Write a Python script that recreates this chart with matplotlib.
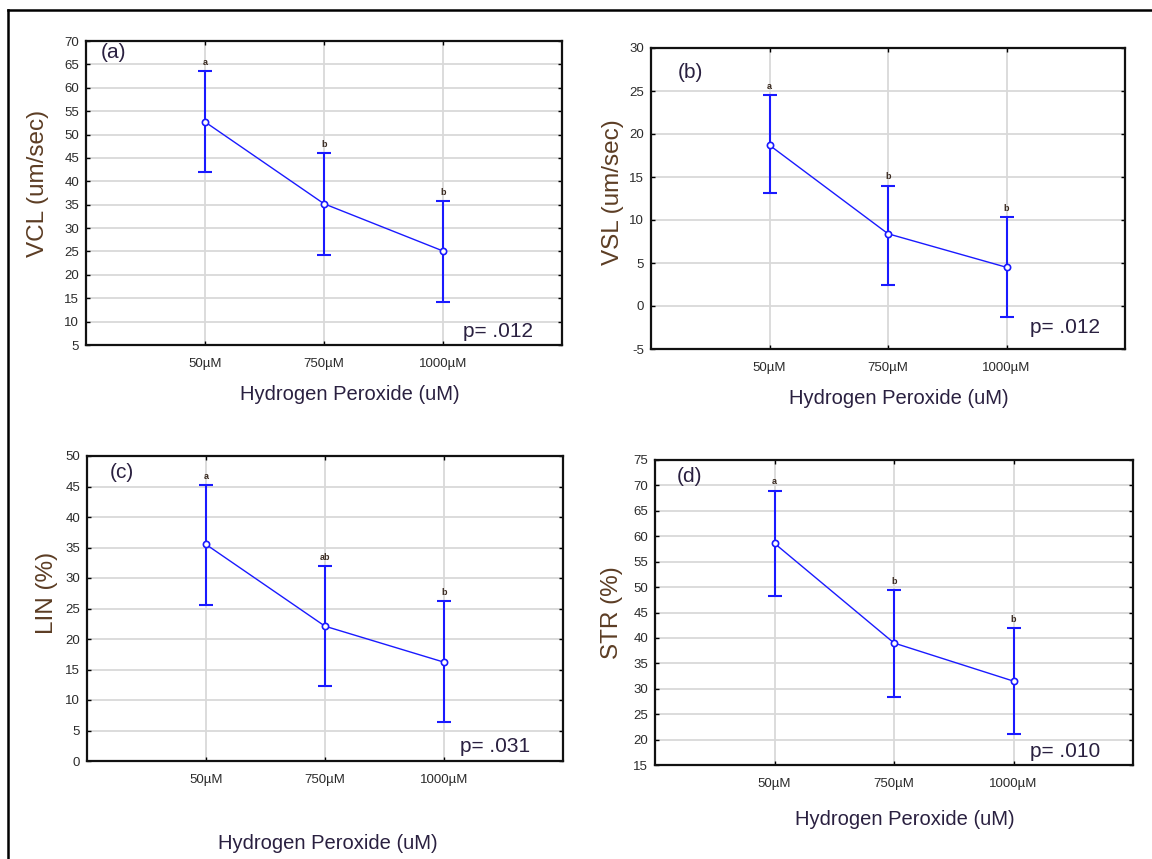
import numpy as np
import matplotlib
matplotlib.use("Agg")
import matplotlib.pyplot as plt
from matplotlib.lines import Line2D

plt.rcParams['font.family'] = ['Liberation Sans', 'DejaVu Sans']
plt.rcParams['axes.unicode_minus'] = False

doses = ['50µM', '750µM', '1000µM']
xlabel = 'Hydrogen Peroxide (uM)'

# means, upper and lower ends of the error bars, letters, p values
vcl_mean = [52.7, 35.2, 25.1]
vcl_hi = [63.6, 46.1, 35.8]
vcl_lo = [42.0, 24.3, 14.2]
vcl_letters = ['a', 'b', 'b']

vsl_mean = [18.7, 8.4, 4.5]
vsl_hi = [24.5, 14.0, 10.3]
vsl_lo = [13.1, 2.4, -1.3]
vsl_letters = ['a', 'b', 'b']

lin_mean = [35.5, 22.1, 16.2]
lin_hi = [45.3, 32.0, 26.2]
lin_lo = [25.6, 12.3, 6.4]
lin_letters = ['a', 'ab', 'b']

str_mean = [58.6, 39.0, 31.5]
str_hi = [69.0, 49.4, 42.0]
str_lo = [48.3, 28.3, 21.1]
str_letters = ['a', 'b', 'b']

W, H = 1152, 859

panels = [
    # pixel box (left, top, right, bottom), data, ylabel, yrange, tag, p text, label spots
    dict(box=(86, 41, 562, 345), mean=vcl_mean, hi=vcl_hi, lo=vcl_lo, let=vcl_letters,
         ylab='VCL (um/sec)', ylim=(5, 70), tag='(a)', tagpos=(0.03, 0.995),
         p='p= .012', ppos=(0.939, 0.025), ylpos=(-0.1, 0.53), xlpos=(0.555, -0.164)),
    dict(box=(651, 48, 1125, 349), mean=vsl_mean, hi=vsl_hi, lo=vsl_lo, let=vsl_letters,
         ylab='VSL (um/sec)', ylim=(-5, 30), tag='(b)', tagpos=(0.057, 0.95),
         p='p= .012', ppos=(0.947, 0.053), ylpos=(-0.08, 0.52), xlpos=(0.523, -0.163)),
    dict(box=(87, 456, 563, 761), mean=lin_mean, hi=lin_hi, lo=lin_lo, let=lin_letters,
         ylab='LIN (%)', ylim=(0, 50), tag='(c)', tagpos=(0.048, 0.977),
         p='p= .031', ppos=(0.931, 0.03), ylpos=(-0.084, 0.55), xlpos=(0.506, -0.27)),
    dict(box=(655, 460, 1133, 765), mean=str_mean, hi=str_hi, lo=str_lo, let=str_letters,
         ylab='STR (%)', ylim=(15, 75), tag='(d)', tagpos=(0.046, 0.977),
         p='p= .010', ppos=(0.931, 0.026), ylpos=(-0.09, 0.5), xlpos=(0.523, -0.18)),
]

fig = plt.figure(figsize=(W / 100, H / 100), dpi=100)

# outer frame (left and top edges)
fig.add_artist(Line2D([8 / W, 8 / W], [0, 1 - 10 / H], transform=fig.transFigure, color='black', lw=1.8))
fig.add_artist(Line2D([8 / W, 1], [1 - 10 / H, 1 - 10 / H], transform=fig.transFigure, color='black', lw=1.8))

x = np.arange(1, len(doses) + 1)
blue = '#1a1aff'

for p in panels:
    l, t, r, b = p['box']
    ax = fig.add_axes([l / W, 1 - b / H, (r - l) / W, (b - t) / H])
    mean = np.array(p['mean'])
    hi = np.array(p['hi'])
    lo = np.array(p['lo'])
    ax.errorbar(x, mean, yerr=[mean - lo, hi - mean], fmt='none', ecolor=blue,
                elinewidth=1.5, capsize=5, capthick=1.5, zorder=3)
    ax.plot(x, mean, color=blue, lw=1, marker='o', ms=4.5, mfc='white', mec=blue, mew=1.2, zorder=4)
    for xi, top, s in zip(x, hi, p['let']):
        ax.annotate(s, (xi, top), xytext=(0, 3), textcoords='offset points', ha='center',
                    va='bottom', fontsize=6.5, fontweight='bold', color='#3a2a20')

    ax.set_xlim(0, 4)
    ax.set_ylim(*p['ylim'])
    ax.set_xticks(x)
    ax.set_xticklabels(doses, fontsize=9.5, color='#2b2b2b')
    ax.set_yticks(np.arange(p['ylim'][0], p['ylim'][1] + 1, 5))
    for lab in ax.get_yticklabels():
        lab.set_fontsize(9.5)
        lab.set_color('#2b2b2b')
    ax.tick_params(direction='in', top=True, right=True, length=3, width=1)
    ax.tick_params(axis='x', pad=9)
    ax.tick_params(axis='y', pad=5)
    ax.grid(True, color='#d9d9d9', lw=1.3)
    ax.set_axisbelow(True)
    for sp in ax.spines.values():
        sp.set_linewidth(1.6)
        sp.set_color('#111111')

    ax.set_ylabel(p['ylab'], fontsize=17.5, color='#5c3d24', va='center')
    ax.yaxis.set_label_coords(*p['ylpos'])
    ax.set_xlabel(xlabel, fontsize=14.5, color='#2a2040', va='center')
    ax.xaxis.set_label_coords(*p['xlpos'])

    ax.text(p['tagpos'][0], p['tagpos'][1], p['tag'], transform=ax.transAxes, ha='left',
            va='top', fontsize=15, color='#2a2040')
    ax.text(p['ppos'][0], p['ppos'][1], p['p'], transform=ax.transAxes, ha='right',
            va='baseline', fontsize=15, color='#2a2040')

plt.savefig('out.png', dpi=100)
